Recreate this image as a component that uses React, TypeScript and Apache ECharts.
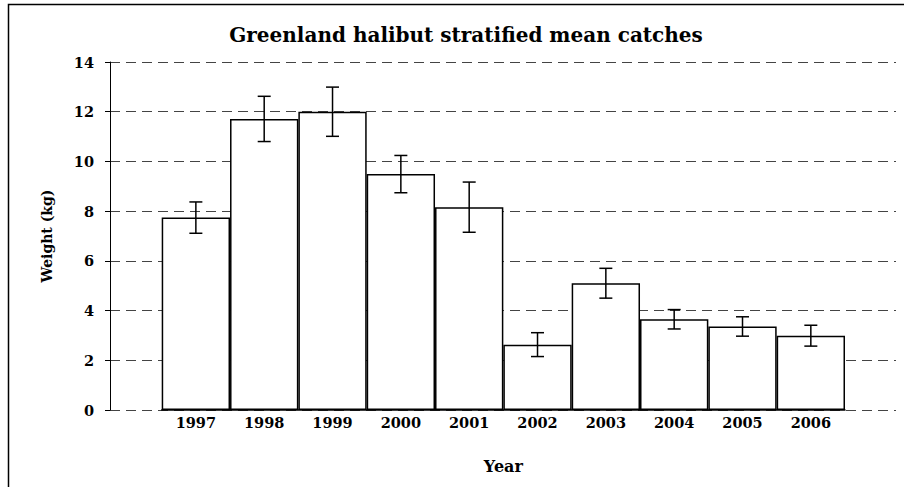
import React, { useEffect, useRef } from "react";
import * as echarts from "echarts";

// Stratified mean catch weight (kg) per survey year, with error bar half-widths
const years = ["1997", "1998", "1999", "2000", "2001", "2002", "2003", "2004", "2005", "2006"];
const meanWeight = [7.74, 11.71, 12.0, 9.49, 8.16, 2.63, 5.1, 3.65, 3.36, 2.99];
const errorHalf = [0.63, 0.91, 0.99, 0.75, 1.01, 0.48, 0.6, 0.39, 0.39, 0.42];
const yTicks = [0, 2, 4, 6, 8, 10, 12, 14];

const FONT = "DejaVu Serif";

export default function App() {
  const ref = useRef<HTMLDivElement>(null);

  useEffect(() => {
    if (!ref.current) return;
    const chart = echarts.init(ref.current, undefined, { renderer: "svg" });

    const errData = years.map((_, i) => [i, meanWeight[i] - errorHalf[i], meanWeight[i] + errorHalf[i]]);
    const yMin = yTicks[0];
    const yMax = yTicks[yTicks.length - 1];
    const step = yTicks[1] - yTicks[0];

    chart.setOption({
      animation: false,
      backgroundColor: "#ffffff",
      title: {
        text: "Greenland halibut stratified mean catches",
        left: 461,
        top: 20,
        textAlign: "center",
        textStyle: { fontFamily: FONT, fontWeight: "bold", fontSize: 20, color: "#000" },
      },
      graphic: [
        {
          type: "rect",
          shape: { x: 8.5, y: 4.5, width: 1200, height: 1200 },
          style: { fill: "none", stroke: "#000", lineWidth: 1.5 },
          silent: true,
          z: 10,
        },
      ],
      grid: [
        { left: 110, right: 8, top: 62, bottom: 77 },
        { left: 161.7, right: 59, top: 62, bottom: 77 },
      ],
      xAxis: [
        { type: "value", gridIndex: 0, show: false, min: 0, max: 1 },
        {
          type: "category",
          gridIndex: 1,
          data: years,
          axisLine: { show: true, lineStyle: { color: "#000", width: 1.5 } },
          axisTick: { show: false },
          axisLabel: { fontFamily: FONT, fontWeight: "bold", fontSize: 14.5, color: "#000", margin: 5 },
          name: "Year",
          nameLocation: "middle",
          nameGap: 48,
          nameTextStyle: { fontFamily: FONT, fontWeight: "bold", fontSize: 16, color: "#000" },
        },
      ],
      yAxis: [
        {
          type: "value",
          gridIndex: 0,
          min: yMin,
          max: yMax,
          interval: step,
          axisLine: { show: true, lineStyle: { color: "#000", width: 1 } },
          axisTick: { show: true, inside: false, length: 5, lineStyle: { color: "#000" } },
          axisLabel: { fontFamily: FONT, fontWeight: "bold", fontSize: 14.5, color: "#000", margin: 16 },
          splitLine: { show: true, lineStyle: { color: "#444", width: 1, type: [10, 6] } },
          name: "Weight (kg)",
          nameLocation: "middle",
          nameRotate: 90,
          nameGap: 56,
          nameTextStyle: { fontFamily: FONT, fontWeight: "bold", fontSize: 14, color: "#000" },
        },
        { type: "value", gridIndex: 1, min: yMin, max: yMax, show: false, splitLine: { show: false } },
      ],
      series: [
        {
          type: "bar",
          xAxisIndex: 1,
          yAxisIndex: 1,
          data: meanWeight,
          barCategoryGap: 0,
          itemStyle: { color: "#ffffff", borderColor: "#000", borderWidth: 1.5 },
          z: 2,
        },
        {
          type: "custom",
          xAxisIndex: 1,
          yAxisIndex: 1,
          data: errData,
          encode: { x: 0, y: [1, 2] },
          z: 3,
          renderItem: (params: any, api: any) => {
            const idx = api.value(0);
            const lo = api.coord([idx, api.value(1)]);
            const hi = api.coord([idx, api.value(2)]);
            const hw = 6.5;
            const style = { stroke: "#000", lineWidth: 1.5 };
            return {
              type: "group",
              children: [
                { type: "line", shape: { x1: hi[0], y1: hi[1], x2: lo[0], y2: lo[1] }, style },
                { type: "line", shape: { x1: hi[0] - hw, y1: hi[1], x2: hi[0] + hw, y2: hi[1] }, style },
                { type: "line", shape: { x1: lo[0] - hw, y1: lo[1], x2: lo[0] + hw, y2: lo[1] }, style },
              ],
            };
          },
        },
      ],
    });

    return () => chart.dispose();
  }, []);

  return (
    <div
      ref={ref}
      style={{ position: "fixed", left: 0, top: 0, width: 904, height: 487, background: "#fff" }}
    />
  );
}
